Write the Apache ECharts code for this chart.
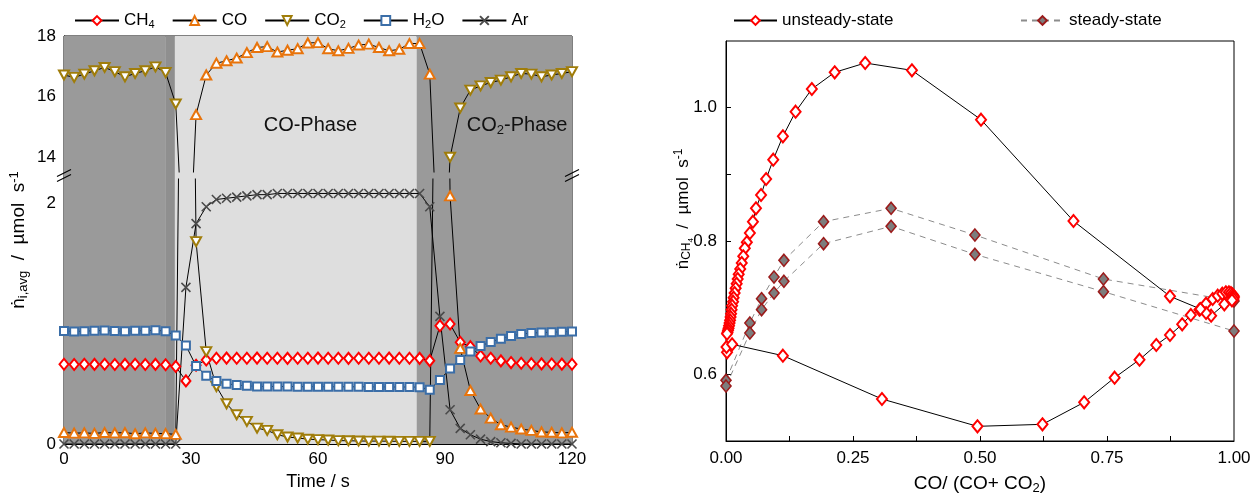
<!DOCTYPE html>
<html><head><meta charset="utf-8">
<script src="https://cdn.jsdelivr.net/npm/echarts@6/dist/echarts.min.js"></script>
<style>html,body{margin:0;padding:0;background:#fff}#c{width:1257px;height:495px}</style>
</head><body><div id="c"></div>
<script>
// ---------- LEFT PANEL DATA ----------
const time = [0,2.4,4.8,7.2,9.6,12,14.4,16.8,19.2,21.6,24,26.4,28.8,31.2,33.6,36,38.4,40.8,43.2,45.6,48,50.4,52.8,55.2,57.6,60,62.4,64.8,67.2,69.6,72,74.4,76.8,79.2,81.6,84,86.4,88.8,91.2,93.6,96,98.4,100.8,103.2,105.6,108,110.4,112.8,115.2,117.6,120];
const ch4 = [0.662,0.660,0.662,0.661,0.662,0.660,0.661,0.662,0.660,0.661,0.658,0.643,0.524,0.654,0.698,0.712,0.713,0.712,0.712,0.713,0.712,0.712,0.711,0.712,0.712,0.713,0.712,0.712,0.711,0.712,0.712,0.712,0.713,0.712,0.712,0.711,0.692,0.982,0.996,0.844,0.808,0.731,0.712,0.690,0.676,0.670,0.667,0.665,0.664,0.663,0.662];
const co = [0.095,0.090,0.092,0.088,0.095,0.092,0.094,0.085,0.092,0.088,0.086,0.080,8,15.40,16.71,17.10,17.18,17.27,17.45,17.62,17.65,17.47,17.53,17.58,17.77,17.78,17.58,17.51,17.59,17.70,17.73,17.62,17.51,17.56,17.75,17.75,16.74,9,2.06,0.794,0.444,0.290,0.215,0.160,0.140,0.124,0.113,0.100,0.097,0.092,0.097];
const co2 = [16.71,16.63,16.74,16.85,16.96,16.82,16.65,16.76,16.85,16.98,16.79,15.75,9,1.68,0.767,0.477,0.334,0.243,0.188,0.132,0.113,0.077,0.058,0.050,0.040,0.036,0.033,0.028,0.027,0.025,0.024,0.024,0.023,0.022,0.022,0.022,0.022,7,13.99,15.62,16.21,16.35,16.46,16.54,16.65,16.76,16.74,16.65,16.71,16.76,16.82];
const h2o = [0.938,0.935,0.937,0.940,0.942,0.938,0.937,0.940,0.940,0.945,0.936,0.900,0.817,0.648,0.566,0.524,0.500,0.490,0.483,0.478,0.478,0.477,0.477,0.476,0.476,0.476,0.475,0.475,0.475,0.475,0.474,0.474,0.473,0.473,0.473,0.472,0.450,0.532,0.626,0.698,0.767,0.814,0.847,0.874,0.897,0.913,0.921,0.925,0.928,0.931,0.935];
const ar = [0,0,0,0,0,0,0,0,0,0,0,0,1.30,1.83,1.97,2.03,2.04,2.05,2.06,2.07,2.07,2.08,2.08,2.08,2.08,2.08,2.08,2.08,2.08,2.08,2.08,2.08,2.08,2.08,2.08,2.08,1.97,1.06,0.284,0.130,0.077,0.040,0.020,0.010,0.005,0,0,0,0,0,0];
const phaseStart = [0, 23.9, 26.2, 83.3];
const phaseEnd = [23.9, 26.2, 83.3, 120];
const timeTicks = [15,30,45,60,75,90,105];
const timeLabels = [0,30,60,90,120];
const upperTicks = [14,15,16,17,18];
const upperLabels = [14,16,18];
const lowerTicks = [0,1,2];
const lowerLabels = [0,2];

// ---------- RIGHT PANEL DATA ----------
const unsteadyX = [0.002,0.001,0.012,0.112,0.307,0.495,0.623,0.705,0.765,0.814,0.847,0.874,0.898,0.915,0.932,0.945,0.958,0.968,0.977,0.984,0.990,0.994,0.997,0.999,1.0,0.999,0.996,0.981,0.955,0.945,0.934,0.874,0.684,0.502,0.366,0.274,0.214,0.169,0.137,0.112,0.093,0.079,0.069,0.059,0.053,0.047,0.041,0.037,0.034,0.031,0.028,0.025,0.023,0.021,0.019,0.017,0.015,0.014,0.012,0.011,0.010,0.009,0.008,0.007,0.006,0.005,0.004,0.003,0.002];
const unsteadyY = [0.633,0.641,0.645,0.628,0.563,0.522,0.525,0.558,0.595,0.622,0.644,0.659,0.675,0.689,0.697,0.706,0.713,0.718,0.721,0.723,0.723,0.722,0.720,0.718,0.716,0.713,0.711,0.705,0.688,0.692,0.698,0.717,0.830,0.982,1.056,1.067,1.053,1.028,0.994,0.957,0.922,0.893,0.869,0.849,0.829,0.812,0.798,0.789,0.777,0.767,0.758,0.750,0.743,0.736,0.729,0.722,0.715,0.709,0.703,0.697,0.691,0.686,0.681,0.677,0.673,0.669,0.666,0.663,0.661];
const steadyX = [0, 0.047, 0.070, 0.0945, 0.114, 0.192, 0.325, 0.490, 0.743, 1.0];
const steadyYa = [0.591, 0.677, 0.7135, 0.746, 0.771, 0.829, 0.849, 0.809, 0.743, 0.710];
const steadyYb = [0.5825, 0.662, 0.697, 0.722, 0.7395, 0.796, 0.822, 0.780, 0.724, 0.665];
const ratioTicks = [0.125,0.25,0.375,0.5,0.625,0.75,0.875];
const ratioLabels = [0,0.25,0.5,0.75,1];
const rateTicks = [0.6,0.7,0.8,0.9,1.0];
const rateLabels = [0.6,0.8,1.0];

// ---------- LAYOUT / STYLE ----------
const FONT = '"Liberation Sans", Arial, sans-serif';
const LP = {left:64, width:508, top:36, bottom:444, upBottom:172, lowTop:179};
const RP = {left:726, width:508, top:41, height:400};
const TXT = '#000';
const rich = {
  n:{fontFamily:FONT,fontSize:19,color:TXT},
  sub:{fontFamily:FONT,fontSize:13,color:TXT,padding:[9,0,0,0]},
  sub2:{fontFamily:FONT,fontSize:9,color:TXT,padding:[16,0,0,0]},
  sup:{fontFamily:FONT,fontSize:13,color:TXT,padding:[0,0,9,0]},
  s:{fontFamily:FONT,fontSize:11,color:TXT,padding:[8,0,0,0]}
};
const richR = {
  n:{fontFamily:FONT,fontSize:17,fill:TXT},
  sub:{fontFamily:FONT,fontSize:12,fill:TXT,padding:[8,0,0,0]},
  sub2:{fontFamily:FONT,fontSize:8,fill:TXT,padding:[15,0,0,0]},
  sup:{fontFamily:FONT,fontSize:12,fill:TXT,padding:[0,0,8,0]}
};
const tickStyle = {show:true, inside:true, length:5, lineStyle:{color:'#000',width:1}};
const axisLine = {show:true, lineStyle:{color:'#000',width:1}};
const lblStyle = {fontFamily:FONT, fontSize:17, color:TXT};

const species = [
  {name:'CH4', vals:ch4, symbol:'diamond', size:[9,11], color:'#ff0000'},
  {name:'CO', vals:co, symbol:'triangle', size:[10,9], color:'#e8740c'},
  {name:'CO2', vals:co2, symbol:'triangle', rotate:180, size:[10,9], color:'#a07d0a'},
  {name:'H2O', vals:h2o, symbol:'rect', size:8, color:'#3b6ea8'},
  {name:'Ar', vals:ar, symbol:'path://M0,0L10,10M0,10L10,0', size:9, color:'#4a4a4a', cross:true}
];
const legendNames = {CH4:'CH{s|4}', CO:'CO', CO2:'CO{s|2}', H2O:'H{s|2}O', Ar:'Ar'};

const series = [];
series.push({
  type:'line', xAxisIndex:0, yAxisIndex:0, data:[[0,0]], symbol:'none', silent:true,
  lineStyle:{opacity:0}, z:0,
  markArea:{silent:true, data: phaseStart.map((s,i)=>[
    {xAxis:s, itemStyle:{color:['#9a9a9a','#8f8f8f','#dedede','#9a9a9a'][i]}}, {xAxis:phaseEnd[i]}])}
});
[[1,1],[2,3]].forEach(([xi,yi])=>{
  species.forEach(sp=>{
    series.push({
      type:'line', name:sp.name, xAxisIndex:xi, yAxisIndex:yi,
      data: time.map((t,i)=>[t, sp.vals[i]]),
      symbol: sp.symbol, symbolSize: sp.size, symbolRotate: sp.rotate||0,
      itemStyle: sp.cross ? {color:sp.color, borderColor:sp.color, borderWidth:1.6}
                          : {color:'#fff', borderColor:sp.color, borderWidth:2},
      lineStyle:{color:'#000', width:1}, clip:true, z:3
    });
  });
});
series.push({
  type:'line', name:'steady-state', xAxisIndex:3, yAxisIndex:5,
  data: steadyX.map((x,i)=>[x, steadyYa[i]]),
  symbol:'diamond', symbolSize:[10,12],
  itemStyle:{color:'#7d7d7d', borderColor:'#9b1b1b', borderWidth:1.6},
  lineStyle:{color:'#8c8c8c', width:1, type:[6,5]}, z:3
});
series.push({
  type:'line', name:'steady-state', xAxisIndex:3, yAxisIndex:5,
  data: steadyX.map((x,i)=>[x, steadyYb[i]]),
  symbol:'diamond', symbolSize:[10,12],
  itemStyle:{color:'#7d7d7d', borderColor:'#9b1b1b', borderWidth:1.6},
  lineStyle:{color:'#8c8c8c', width:1, type:[6,5]}, z:3
});
series.push({
  type:'line', name:'unsteady-state', xAxisIndex:3, yAxisIndex:5,
  data: unsteadyX.map((x,i)=>[x, unsteadyY[i]]),
  symbol:'diamond', symbolSize:[10,12],
  itemStyle:{color:'#fff', borderColor:'#ff0000', borderWidth:2},
  lineStyle:{color:'#000', width:1}, z:4
});

function brk(x, yc){
  return [
    {type:'line', shape:{x1:x-7,y1:yc+6,x2:x+7,y2:yc-1}, style:{stroke:'#000',lineWidth:1.2}, z:100},
    {type:'line', shape:{x1:x-7,y1:yc+1,x2:x+7,y2:yc-6}, style:{stroke:'#000',lineWidth:1.2}, z:100}
  ];
}
const yBreak = (LP.upBottom + LP.lowTop)/2;
const gridBase = {outerBoundsMode:'none', containLabel:false};

const option = {
  animation:false,
  backgroundColor:'#fff',
  textStyle:{fontFamily:FONT},
  grid:[
    {...gridBase, left:LP.left, top:LP.top, width:LP.width, height:LP.bottom-LP.top, show:true, borderColor:'#000', borderWidth:1, backgroundColor:'transparent'},
    {...gridBase, left:LP.left, top:LP.top, width:LP.width, height:LP.upBottom-LP.top},
    {...gridBase, left:LP.left, top:LP.lowTop, width:LP.width, height:LP.bottom-LP.lowTop},
    {...gridBase, left:RP.left, top:RP.top, width:RP.width, height:RP.height, show:true, borderColor:'#000', borderWidth:1, backgroundColor:'transparent'}
  ],
  xAxis:[
    {gridIndex:0, type:'value', min:0, max:120, show:false},
    {gridIndex:1, type:'value', min:0, max:120, show:false},
    {gridIndex:2, type:'value', min:0, max:120, axisLine,
     axisTick:{...tickStyle, customValues:timeTicks}, splitLine:{show:false},
     axisLabel:{...lblStyle, margin:7, customValues:timeLabels},
     name:'Time / s', nameLocation:'middle', nameGap:29,
     nameTextStyle:{fontFamily:FONT, fontSize:18, color:TXT}},
    {gridIndex:3, type:'value', min:0, max:1, axisLine,
     axisTick:{...tickStyle, customValues:ratioTicks}, splitLine:{show:false},
     axisLabel:{...lblStyle, margin:9, customValues:ratioLabels, formatter:v=>v.toFixed(2)},
     name:'{n|CO/ (CO+ CO}{sub|2}{n|)}', nameLocation:'middle', nameGap:32,
     nameTextStyle:{fontFamily:FONT, fontSize:19, color:TXT, rich}}
  ],
  yAxis:[
    {gridIndex:0, type:'value', min:0, max:1, axisLine:{show:false}, axisTick:{show:false},
     axisLabel:{show:false}, splitLine:{show:false},
     name:'{n|ṅ}{sub|i,avg}{n|  /  µmol  s}{sup|-1}', nameLocation:'middle', nameGap:34,
     nameTextStyle:{fontFamily:FONT, fontSize:19, color:TXT, rich}},
    {gridIndex:1, type:'value', min:13.5, max:18, axisLine,
     axisTick:{...tickStyle, customValues:upperTicks}, splitLine:{show:false},
     axisLabel:{...lblStyle, margin:8, customValues:upperLabels}},
    {gridIndex:1, type:'value', min:13.5, max:18, show:false},
    {gridIndex:2, type:'value', min:0, max:2.2, axisLine,
     axisTick:{...tickStyle, customValues:lowerTicks}, splitLine:{show:false},
     axisLabel:{...lblStyle, margin:8, customValues:lowerLabels}},
    {gridIndex:2, type:'value', min:0, max:2.2, show:false},
    {gridIndex:3, type:'value', min:0.5, max:1.1, axisLine,
     axisTick:{...tickStyle, customValues:rateTicks}, splitLine:{show:false},
     axisLabel:{...lblStyle, margin:9, customValues:rateLabels, formatter:v=>v.toFixed(1)}}
  ],
  legend:[
    {data:['CH4','CO','CO2','H2O','Ar'], left:69, top:7, itemWidth:44, itemHeight:11, itemGap:17,
     selectedMode:false, formatter:n=>legendNames[n],
     textStyle:{fontFamily:FONT, fontSize:17, color:TXT, rich}},
    {data:['unsteady-state'], left:728, top:7, itemWidth:43, itemHeight:11, selectedMode:false,
     textStyle:{fontFamily:FONT, fontSize:17, color:TXT}},
    {data:['steady-state'], left:1015, top:7, itemWidth:43, itemHeight:11, selectedMode:false,
     textStyle:{fontFamily:FONT, fontSize:17, color:TXT}}
  ],
  graphic:[
    {type:'text', x:LP.left+LP.width*0.485, y:125, z:50,
     style:{text:'CO-Phase', font:'20px '+FONT, fill:'#111', align:'center', verticalAlign:'middle'}},
    {type:'text', x:LP.left+LP.width*0.892, y:125, z:50,
     style:{text:'{a|CO}{b|2}{a|-Phase}', align:'center', verticalAlign:'middle',
       rich:{a:{fontFamily:FONT,fontSize:20,fill:'#111'}, b:{fontFamily:FONT,fontSize:13,fill:'#111',padding:[10,0,0,0]}}}},
    {type:'text', x:RP.left-43, y:RP.top+RP.height*0.42, rotation:Math.PI/2, z:50,
     style:{text:'{n|ṅ}{sub|CH}{sub2|4}{n|  /  µmol  s}{sup|-1}', align:'center', verticalAlign:'middle', rich:richR}},
    ...brk(LP.left, yBreak), ...brk(LP.left+LP.width, yBreak)
  ],
  series
};
const chart = echarts.init(document.getElementById('c'), null, {renderer:'canvas'});
chart.setOption(option);
</script>
</body></html>
